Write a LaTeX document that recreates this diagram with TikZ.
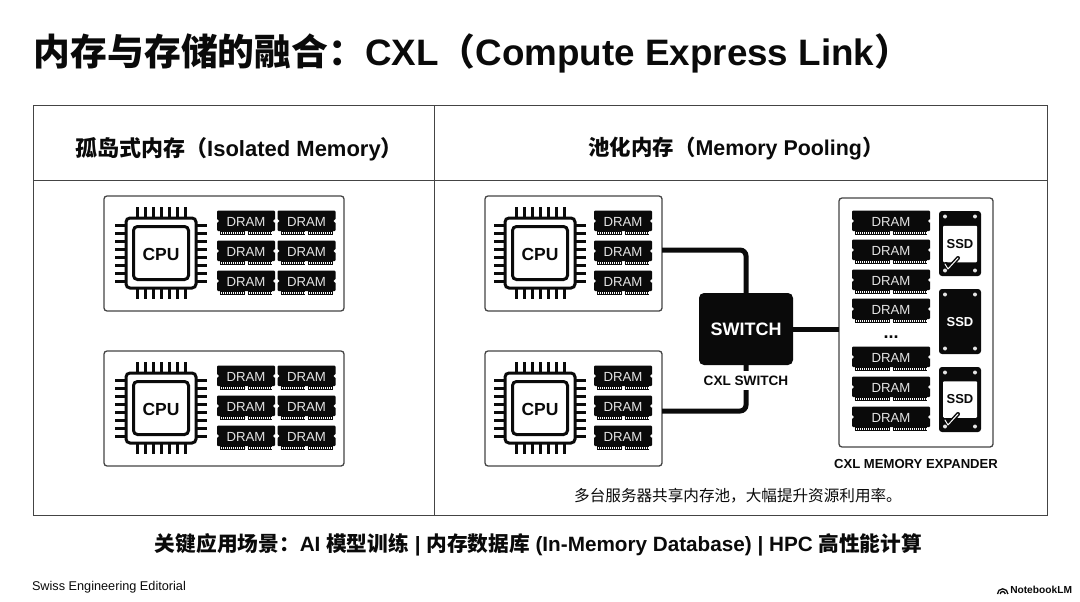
\documentclass[tikz,border=0pt]{standalone}
\usepackage{fontspec}
\setmainfont{Liberation Sans}
\newfontfamily\cjk{Noto Sans CJK SC}
\usepackage{xcolor}
\usetikzlibrary{positioning}
\definecolor{ink}{HTML}{0A0A0A}
\definecolor{rule}{HTML}{444444}
\definecolor{chiptext}{HTML}{E4E4E4}
\newcommand{\setfs}[1]{\fontsize{#1}{#1}\selectfont}

\tikzset{
  pics/cpuchip/.style={code={
    \foreach \i in {-3,...,3} {
      \draw[pinline] (\i*8,-46) -- (\i*8,-35);
      \draw[pinline] (\i*8,35) -- (\i*8,46);
    }
    \foreach \i in {-3.5,-2.5,...,3.5} {
      \draw[pinline] (-46,\i*8) -- (-35,\i*8);
      \draw[pinline] (35,\i*8) -- (46,\i*8);
    }
    \draw[chipline, fill=white, rounded corners=4pt] (-35,-35) rectangle (35,35);
    \draw[chipline, rounded corners=4pt] (-27.5,-26.5) rectangle (27.5,26.5);
    \node[font=\setfs{17.5}\bfseries, text=ink] (label) at (0,1) {CPU};
  }},
  pics/dram/.style={code={
    \fill[ink, rounded corners=1pt] (-#1/2,-11.3) rectangle (#1/2,9);
    \fill[ink] (-#1/2+3,8) rectangle (-1.5,13);
    \fill[ink] (1.5,8) rectangle (#1/2-3,13);
    \draw[white, line width=1.6pt, dash pattern=on 0.9pt off 1.1pt] (-#1/2+4,10.8) -- (-2.5,10.8);
    \draw[white, line width=1.6pt, dash pattern=on 0.9pt off 1.1pt] (2.5,10.8) -- (#1/2-4,10.8);
    \fill[white] (-#1/2,-1) circle (1.8);
    \fill[white] (#1/2,-1) circle (1.8);
    \node[font=\setfs{13.2}, text=chiptext] (label) at (0,0) {DRAM};
  }},
  pics/ssd/.style={code={
    \fill[ink, rounded corners=3pt] (-21,-32.5) rectangle (21,32.5);
    \foreach \sx in {-15,15} \foreach \sy in {-27,27}
      \fill[chiptext] (\sx,\sy) circle (2);
  }},
}

\begin{document}
\begin{tikzpicture}[x=1pt, y=-1pt,
    every node/.style={inner sep=0pt, outer sep=0pt, align=center},
    pinline/.style={ink, line width=3pt},
    chipline/.style={ink, line width=3pt},
    panel/.style={draw=rule, line width=1pt},
    srvbox/.style={draw=rule, line width=1.3pt, rounded corners=3pt, fill=white},
    head/.style={font=\setfs{22}\bfseries, text=ink},
    tag/.style={font=\setfs{13.6}\bfseries, text=ink, fill=white, minimum height=19pt},
    ssdtext/.style={font=\setfs{13}\bfseries},
    ssdlabel/.style={fill=white, rounded corners=1pt, minimum width=34pt, minimum height=36.5pt, text=ink},
    link/.style={ink, line width=5pt, rounded corners=6pt},
    tick/.style={line cap=round, line join=round},
  ]
  \useasboundingbox (0,0) rectangle (1080,602);

  % title and outer table
  \node[font=\setfs{36.8}\bfseries, text=ink, anchor=west] (title) at (34,53)
    {{\cjk 内存与存储的融合：}CXL{\cjk （}Compute Express Link{\cjk ）}};
  \node[panel, minimum width=1014pt, minimum height=409pt, anchor=north west] (frame) at (33,106) {};
  \draw[panel] (frame.west |- 0,180) -- (frame.east |- 0,180);
  \draw[panel] (434,0 |- frame.north) -- (434,0 |- frame.south);
  \node[head] (headL) at (239,149) {{\cjk 孤岛式内存（}Isolated Memory{\cjk ）}};
  \node[head, font=\setfs{21.4}\bfseries] (headR) at (736,149) {{\cjk 池化内存（}Memory Pooling{\cjk ）}};

  % isolated servers
  \node[srvbox, minimum width=240pt, minimum height=115pt, anchor=north west] (srvA) at (104,196) {};
  \node[srvbox, minimum width=240pt, minimum height=115pt, below=40pt of srvA] (srvB) {};
  % pooled servers
  \node[srvbox, minimum width=177pt, minimum height=115pt, anchor=north west] (srvC) at (485,196) {};
  \node[srvbox, minimum width=177pt, minimum height=115pt, below=40pt of srvC] (srvD) {};

  \foreach \cy/\nm in {253/up, 408/low} {
    \pic (cpuL\nm) at (161,\cy) {cpuchip};
    \pic (cpuR\nm) at (540,\cy) {cpuchip};
    \foreach \dy in {-31,-1,29} {
      \pic at (246,\cy+\dy) {dram=58};
      \pic at (306.5,\cy+\dy) {dram=58};
      \pic at (623,\cy+\dy) {dram=58};
    }
  }

  % expander
  \node[srvbox, minimum width=154pt, minimum height=249pt, anchor=north west] (expander) at (839,198) {};
  \foreach \ry in {222,251,281,310,358,388,418}
    \pic at (891,\ry) {dram=78};
  \node[font=\setfs{18}\bfseries, text=ink] (dots) at (891,337) {...};
  \pic (ssdA) at (960,243.5) {ssd};
  \pic (ssdB) at (960,321.5) {ssd};
  \pic (ssdC) at (960,399.5) {ssd};
  \node[ssdlabel, ssdtext] (labelA) at (960,244) {SSD};
  \node[ssdtext, text=white] (labelB) at (960,322) {SSD};
  \node[ssdlabel, ssdtext] (labelC) at (960,399.5) {SSD};
  \foreach \ty in {267,423} {
    \draw[tick, ink, line width=4pt] (946,\ty-3) -- (949,\ty+1) -- (958,\ty-9);
    \draw[tick, white, line width=1pt] (945,\ty-3) -- (948,\ty+2) -- (958,\ty-9);
  }

  % switch
  \node[fill=ink, rounded corners=5pt, minimum width=94pt, minimum height=72pt,
        text=white, font=\setfs{18}\bfseries] (switch) at (746,329) {SWITCH};
  \draw[link] ([yshift=3.5pt]srvC.east) -| (switch.north);
  \draw[link] ([yshift=-2.5pt]srvD.east) -| (switch.south);
  \draw[ink, line width=5pt] (switch.east) -- (expander.west |- switch.east);
  \node[tag, below=6pt of switch] (switchtag) {CXL SWITCH};
  \node[font=\setfs{13.1}\bfseries, text=ink] (expandertag) at (916,463.5) {CXL MEMORY EXPANDER};
  \node[font=\setfs{15.6}\cjk, text=ink] (caption) at (738,496) {多台服务器共享内存池，大幅提升资源利用率。};

  % footer
  \node[font=\setfs{20.7}\bfseries, text=ink] (footer) at (538.5,544.5)
    {{\cjk 关键应用场景：}AI {\cjk 模型训练} | {\cjk 内存数据库} (In-Memory Database) | HPC {\cjk 高性能计算}};
  \node[font=\setfs{12.7}, text=ink, anchor=west] (brand) at (32,587) {Swiss Engineering Editorial};
  \node[font=\setfs{10.2}\bfseries, text=ink, anchor=east] (logo) at (1072,590) {NotebookLM};
  \draw[ink, line width=1.3pt] (997.5,594) arc (180:360:5.2);
  \draw[ink, line width=1.3pt] (1000.2,594) arc (180:360:2.5);
\end{tikzpicture}
\end{document}
